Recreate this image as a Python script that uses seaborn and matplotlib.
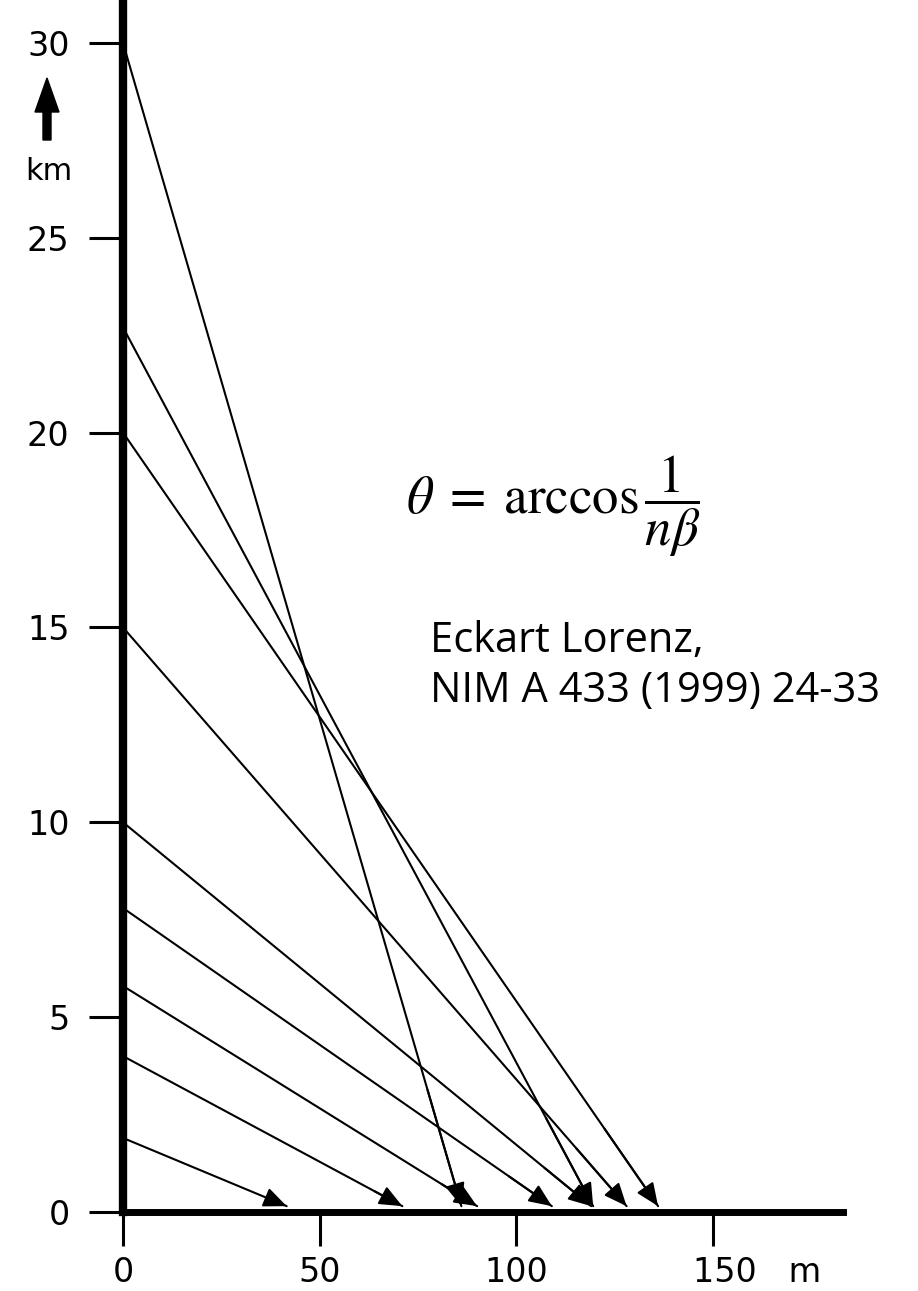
"""Cherenkov light pool: rays emitted at different heights reaching the ground."""

import matplotlib
matplotlib.use("Agg")
import matplotlib.pyplot as plt
import pandas as pd
import seaborn as sns

# emission height (km) and ground arrival distance (m) of each ray
ray_heights_km = [30, 22.7, 20, 15, 10, 7.8, 5.8, 4.0, 1.9]
ray_ground_m = [86, 119.5, 136, 128, 119, 109, 90, 71, 41.6]

y_ticks = [0, 5, 10, 15, 20, 25, 30]
x_ticks = [0, 50, 100, 150]
x_tick_labels = ["0", "50", "100", ""]

formula = r"$\theta\; =\; \mathrm{arccos}\,\dfrac{1}{n\beta}$"
reference = "Eckart Lorenz,\nNIM A 433 (1999) 24-33"

ARROW_Y = 0.15  # arrow tips sit on top of the thick ground line

rows = []
for i, (h, d) in enumerate(zip(ray_heights_km, ray_ground_m)):
    rows.append({"ray": i, "x": 0.0, "y": h})
    rows.append({"ray": i, "x": d, "y": ARROW_Y})
rays = pd.DataFrame(rows)

sns.set_style("ticks")
plt.rcParams["font.family"] = ["DejaVu Sans"]
plt.rcParams["mathtext.fontset"] = "stix"
plt.rcParams.update({
    "axes.edgecolor": "black",
    "text.color": "black",
    "xtick.color": "black",
    "ytick.color": "black",
})

fig = plt.figure(figsize=(9.18, 12.91), dpi=100)
ax = fig.add_axes([123 / 918, 79 / 1291, 720 / 918, 1212 / 1291])

sns.lineplot(data=rays, x="x", y="y", units="ray", estimator=None, sort=False,
             color="black", linewidth=1.5, ax=ax, legend=False)

# arrowheads at the ground
for h, d in zip(ray_heights_km, ray_ground_m):
    back_x = d * 0.9
    back_y = ARROW_Y + (h - ARROW_Y) * 0.1
    ax.annotate("", xy=(d, ARROW_Y), xytext=(back_x, back_y),
                arrowprops=dict(arrowstyle="-|>,head_length=0.7,head_width=0.3",
                                mutation_scale=20, color="black", lw=1.5,
                                shrinkA=0, shrinkB=0))

ax.set_xlim(0, 183)
ax.set_ylim(0, 31.1)
ax.set_xticks(x_ticks)
ax.set_xticklabels(x_tick_labels)
ax.set_yticks(y_ticks)
ax.set_xlabel("")
ax.set_ylabel("")

for side in ("top", "right"):
    ax.spines[side].set_visible(False)
ax.spines["left"].set_linewidth(6)
ax.spines["bottom"].set_linewidth(5)
ax.tick_params(axis="both", length=24.5, width=2.2, labelsize=24, color="black",
               labelcolor="black")
ax.tick_params(axis="y", pad=14)
ax.tick_params(axis="x", pad=7)

# last x label with unit, shifted like in the original
ax.text(145, -1.13, "150   m", ha="left", va="top", fontsize=24)

# unit arrow for the height axis
fig.patches.append(matplotlib.patches.FancyArrow(
    47 / 918, 1 - 140 / 1291, 0, 62 / 1291, width=8 / 918, head_width=24 / 918,
    head_length=34 / 1291, length_includes_head=True, color="black",
    transform=fig.transFigure, figure=fig))
fig.text(49 / 918, 1 - 172 / 1291, "km", ha="center", va="center", fontsize=22)

ax.text(72, 18.1, formula, ha="left", va="center", fontsize=38)
ax.text(78, 15.2, reference, ha="left", va="top", fontsize=30,
        family=["Open Sans", "DejaVu Sans"], linespacing=1.25)

fig.savefig("out.png", dpi=100)
plt.close(fig)
